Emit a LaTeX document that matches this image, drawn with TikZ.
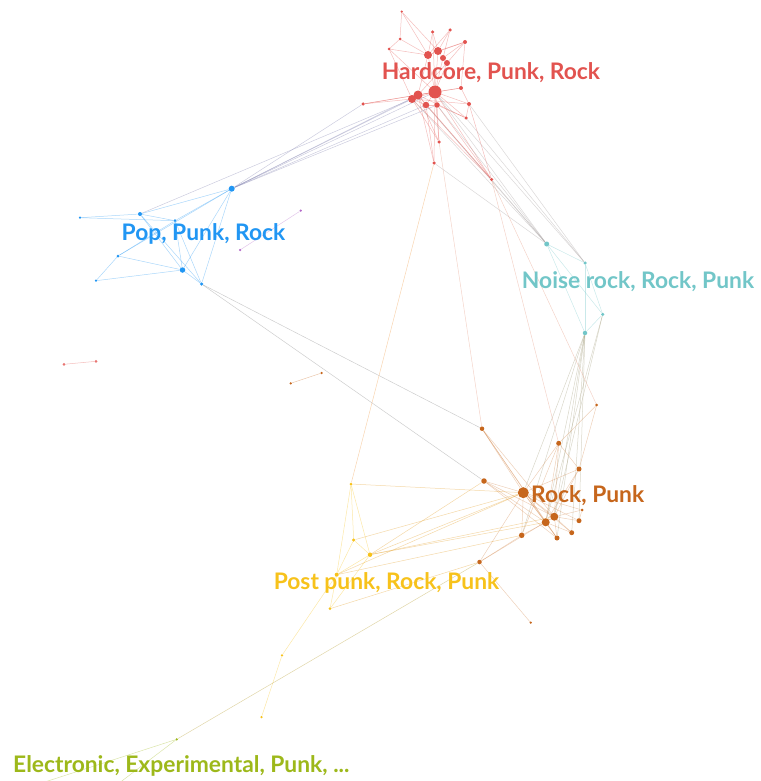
\documentclass[tikz,border=0pt]{standalone}
\usepackage{fontspec}
\setmainfont{Lato}
\usepackage{tikz}
\pgfdeclarelayer{bg}
\pgfsetlayers{bg,main}

\definecolor{hcred}{HTML}{E2534F}
\definecolor{ppblue}{HTML}{2196F3}
\definecolor{nrteal}{HTML}{72C6C8}
\definecolor{rpora}{HTML}{C6661C}
\definecolor{pkyel}{HTML}{F7C21B}
\definecolor{elgrn}{HTML}{9DB81A}
\definecolor{pupur}{HTML}{B368C8}

\tikzset{
  vtx/.style={circle,inner sep=0pt,minimum size=#1},
  lnk/.style={draw=#1,line width=0.5pt,opacity=0.38},
  grp/.style={text=#1,font=\fontsize{22.8}{26}\selectfont\bfseries,inner sep=0pt}
}

\begin{document}
\begin{tikzpicture}[x=1pt,y=-1pt]
    \useasboundingbox (0,0) rectangle (760,781);
    \clip (0,0) rectangle (760,781);
    % Hardcore, Punk, Rock
    \node[vtx=2.5pt,fill=hcred] (hc1) at (401.7,11.7){};
    \node[vtx=3pt,fill=hcred] (hc2) at (400,39){};
    \node[vtx=3pt,fill=hcred] (hc3) at (389,49){};
    \node[vtx=3.5pt,fill=hcred] (hc4) at (432.7,32){};
    \node[vtx=3.5pt,fill=hcred] (hc5) at (450,30){};
    \node[vtx=4pt,fill=hcred] (hc6) at (465,42){};
    \node[vtx=8pt,fill=hcred] (hc7) at (428,55){};
    \node[vtx=8pt,fill=hcred] (hc8) at (438,51){};
    \node[vtx=6pt,fill=hcred] (hc9) at (443,58){};
    \node[vtx=6pt,fill=hcred] (hc10) at (447,63){};
    \node[vtx=13pt,fill=hcred] (hc11) at (435,92){};
    \node[vtx=9pt,fill=hcred] (hc12) at (418,95){};
    \node[vtx=8pt,fill=hcred] (hc13) at (412,99){};
    \node[vtx=6.5pt,fill=hcred] (hc14) at (426,105){};
    \node[vtx=5.5pt,fill=hcred] (hc15) at (437,105){};
    \node[vtx=4pt,fill=hcred] (hc16) at (461,88){};
    \node[vtx=4pt,fill=hcred] (hc17) at (469,104){};
    \node[vtx=3.5pt,fill=hcred] (hc18) at (466,118){};
    \node[vtx=3.5pt,fill=hcred] (hc19) at (363,104){};
    \node[vtx=3.5pt,fill=hcred] (hc20) at (439,142){};
    \node[vtx=3.5pt,fill=hcred] (hc21) at (434,163){};
    \node[vtx=3.5pt,fill=hcred] (hc22) at (491.5,179.5){};
    % Pop, Punk, Rock
    \node[vtx=6pt,fill=ppblue] (pp1) at (231.7,188.7){};
    \node[vtx=2.5pt,fill=ppblue] (pp2) at (80,217.7){};
    \node[vtx=4pt,fill=ppblue] (pp3) at (140,214){};
    \node[vtx=3pt,fill=ppblue] (pp4) at (175,220.7){};
    \node[vtx=3pt,fill=ppblue] (pp5) at (118,256){};
    \node[vtx=5.5pt,fill=ppblue] (pp6) at (182.5,270){};
    \node[vtx=2.5pt,fill=ppblue] (pp7) at (96,280.7){};
    \node[vtx=3.5pt,fill=ppblue] (pp8) at (201.5,284){};
    % loose pairs
    \node[vtx=2.5pt,fill=pupur] (pu1) at (300.7,210.7){};
    \node[vtx=2.5pt,fill=pupur] (pu2) at (240,250){};
    \node[vtx=3pt,fill=hcred!80] (rs1) at (64,364.3){};
    \node[vtx=3pt,fill=hcred!80] (rs2) at (96,361.3){};
    \node[vtx=2.5pt,fill=rpora] (os1) at (290.7,383.3){};
    \node[vtx=2.5pt,fill=rpora] (os2) at (321.7,373){};
    % Noise rock, Rock, Punk
    \node[vtx=5pt,fill=nrteal] (nr1) at (546.7,244){};
    \node[vtx=3.5pt,fill=nrteal] (nr2) at (585,263){};
    \node[vtx=3.5pt,fill=nrteal] (nr3) at (602.7,314.3){};
    \node[vtx=4.5pt,fill=nrteal] (nr4) at (585,333){};
    % Rock, Punk
    \node[vtx=3pt,fill=rpora] (rp1) at (596.7,405){};
    \node[vtx=4.5pt,fill=rpora] (rp2) at (482,428.7){};
    \node[vtx=5pt,fill=rpora] (rp3) at (558.7,443.3){};
    \node[vtx=5pt,fill=rpora] (rp4) at (579,469){};
    \node[vtx=5.5pt,fill=rpora] (rp5) at (484,481){};
    \node[vtx=11pt,fill=rpora] (rp6) at (523.3,492.7){};
    \node[vtx=8pt,fill=rpora] (rp7) at (554.3,516.7){};
    \node[vtx=8pt,fill=rpora] (rp8) at (545.7,522.3){};
    \node[vtx=5pt,fill=rpora] (rp9) at (579,520.7){};
    \node[vtx=5pt,fill=rpora] (rp10) at (571.7,532.7){};
    \node[vtx=5pt,fill=rpora] (rp11) at (557,538){};
    \node[vtx=5.5pt,fill=rpora] (rp12) at (521.7,535.3){};
    \node[vtx=4.5pt,fill=rpora] (rp13) at (479.5,562){};
    \node[vtx=2.5pt,fill=rpora] (rp14) at (530.7,622.7){};
    \node[vtx=3pt,fill=rpora] (rp15) at (582,510){};
    % Post punk, Rock, Punk
    \node[vtx=3pt,fill=pkyel] (pk1) at (351,484){};
    \node[vtx=3.5pt,fill=pkyel] (pk2) at (353.7,540){};
    \node[vtx=4.5pt,fill=pkyel] (pk3) at (370,554.7){};
    \node[vtx=4pt,fill=pkyel] (pk4) at (336.7,574.7){};
    \node[vtx=3pt,fill=pkyel] (pk5) at (330,608.7){};
    \node[vtx=2.5pt,fill=pkyel] (pk6) at (282,655.3){};
    \node[vtx=2.5pt,fill=pkyel] (pk7) at (261.5,717){};
    % Electronic
    \node[vtx=2.5pt,fill=elgrn] (el1) at (176.7,739.3){};
    \coordinate (el2) at (20,790);
    \coordinate (el3) at (110,790);

    \begin{pgfonlayer}{bg}
    \foreach \a/\b in {hc1/hc2,hc1/hc7,hc1/hc8,hc2/hc7,hc2/hc3,hc3/hc7,hc3/hc11,hc3/hc13,
        hc4/hc7,hc4/hc8,hc5/hc8,hc5/hc7,hc5/hc9,hc6/hc8,hc6/hc9,hc6/hc7,hc6/hc10,
        hc7/hc8,hc7/hc11,hc7/hc12,hc8/hc11,hc8/hc9,hc9/hc10,hc9/hc11,hc10/hc11,hc10/hc12,
        hc11/hc12,hc11/hc13,hc11/hc14,hc11/hc15,hc11/hc16,hc11/hc17,hc11/hc18,hc11/hc20,hc11/hc21,
        hc12/hc13,hc12/hc14,hc12/hc20,hc13/hc14,hc13/hc19,hc14/hc15,hc14/hc21,hc15/hc18,hc15/hc20,
        hc16/hc17,hc16/hc12,hc17/hc18,hc17/hc13,hc19/hc11,hc19/hc12,hc22/hc11,hc22/hc14,hc22/hc15,
        hc22/hc17,hc22/hc12,hc22/hc13,hc21/hc12,hc20/hc13,hc18/hc12,hc6/hc16,hc4/hc11}
      \draw[lnk=hcred] (\a) -- (\b);
    \foreach \a/\b in {pp1/hc19,pp1/hc13,pp1/hc12,pp1/hc14,pp1/hc11,pp1/hc15,pp3/hc13}
      \draw[lnk=ppblue!55!hcred] (\a) -- (\b);
    \foreach \a/\b in {pp1/pp3,pp1/pp4,pp1/pp5,pp1/pp6,pp1/pp8,pp2/pp3,pp2/pp4,pp3/pp4,pp3/pp6,
        pp3/pp8,pp4/pp6,pp4/pp8,pp5/pp6,pp5/pp4,pp7/pp6,pp7/pp5,pp6/pp8}
      \draw[lnk=ppblue] (\a) -- (\b);
    \foreach \a/\b in {pp8/rp2,pp8/rp5}
      \draw[lnk=ppblue!45!rpora] (\a) -- (\b);
    \foreach \a/\b in {hc22/nr1,hc11/nr1,hc14/nr1,hc15/nr1,hc21/nr1,hc13/nr1,hc17/nr2,hc18/nr2,hc11/nr2}
      \draw[lnk=hcred!40!nrteal] (\a) -- (\b);
    \foreach \a/\b in {nr1/nr2,nr1/nr3,nr1/nr4,nr2/nr3,nr2/nr4,nr3/nr4}
      \draw[lnk=nrteal] (\a) -- (\b);
    \foreach \a/\b in {nr4/rp6,nr4/rp7,nr4/rp8,nr4/rp10,nr4/rp11,nr4/rp12,nr4/rp9,nr3/rp8,nr3/rp7}
      \draw[lnk=nrteal!50!rpora] (\a) -- (\b);
    \foreach \a/\b in {hc20/rp2,hc22/rp3,hc22/rp1}
      \draw[lnk=hcred!50!rpora!70] (\a) -- (\b);
    \draw[lnk=hcred!45!pkyel] (hc21) -- (pk1);
    \foreach \a/\b in {rp1/rp3,rp1/rp4,rp3/rp4,rp3/rp6,rp3/rp8,rp3/rp12,rp2/rp6,rp2/rp7,rp2/rp8,
        rp2/rp11,rp4/rp6,rp4/rp8,rp5/rp6,rp5/rp7,rp5/rp8,rp5/rp11,rp6/rp7,rp6/rp8,rp6/rp9,
        rp6/rp10,rp6/rp11,rp6/rp12,rp6/rp13,rp6/rp15,rp7/rp8,rp7/rp9,rp7/rp10,rp7/rp11,rp7/rp15,
        rp8/rp12,rp8/rp11,rp8/rp10,rp12/rp13,rp13/rp14,rp13/rp7,rp9/rp15,rp4/rp7,rp3/rp7}
      \draw[lnk=rpora!80] (\a) -- (\b);
    \foreach \a/\b in {pk1/rp6,pk2/rp6,pk3/rp6,pk3/rp7,pk3/rp8,pk4/rp6,pk4/rp12,pk5/rp13,pk3/rp5}
      \draw[lnk=pkyel!55!rpora] (\a) -- (\b);
    \foreach \a/\b in {pk1/pk2,pk1/pk3,pk1/pk4,pk2/pk3,pk2/pk4,pk3/pk4,pk3/pk5,pk4/pk5,pk4/pk6,pk6/pk7}
      \draw[lnk=pkyel] (\a) -- (\b);
    \draw[lnk=elgrn!55!rpora] (el1) -- (rp13);
    \draw[lnk=elgrn] (el1) -- (el2);
    \draw[lnk=elgrn] (el1) -- (el3);
    \draw[lnk=hcred] (rs1) -- (rs2);
    \draw[lnk=rpora] (os1) -- (os2);
    \draw[lnk=pupur] (pu1) -- (pu2);
    \end{pgfonlayer}

    \node[grp=hcred] (lhc) at (491,73) {Hardcore, Punk, Rock};
    \node[grp=ppblue] (lpp) at (203.5,234) {Pop, Punk, Rock};
    \node[grp=nrteal] (lnr) at (638,282) {Noise rock, Rock, Punk};
    \node[grp=rpora,anchor=west] (lrp) at (531,496) {Rock, Punk};
    \node[grp=pkyel] (lpk) at (386.5,583) {Post punk, Rock, Punk};
    \node[grp=elgrn,anchor=west] (lel) at (13,766) {Electronic, Experimental, Punk, ...};
\end{tikzpicture}
\end{document}
